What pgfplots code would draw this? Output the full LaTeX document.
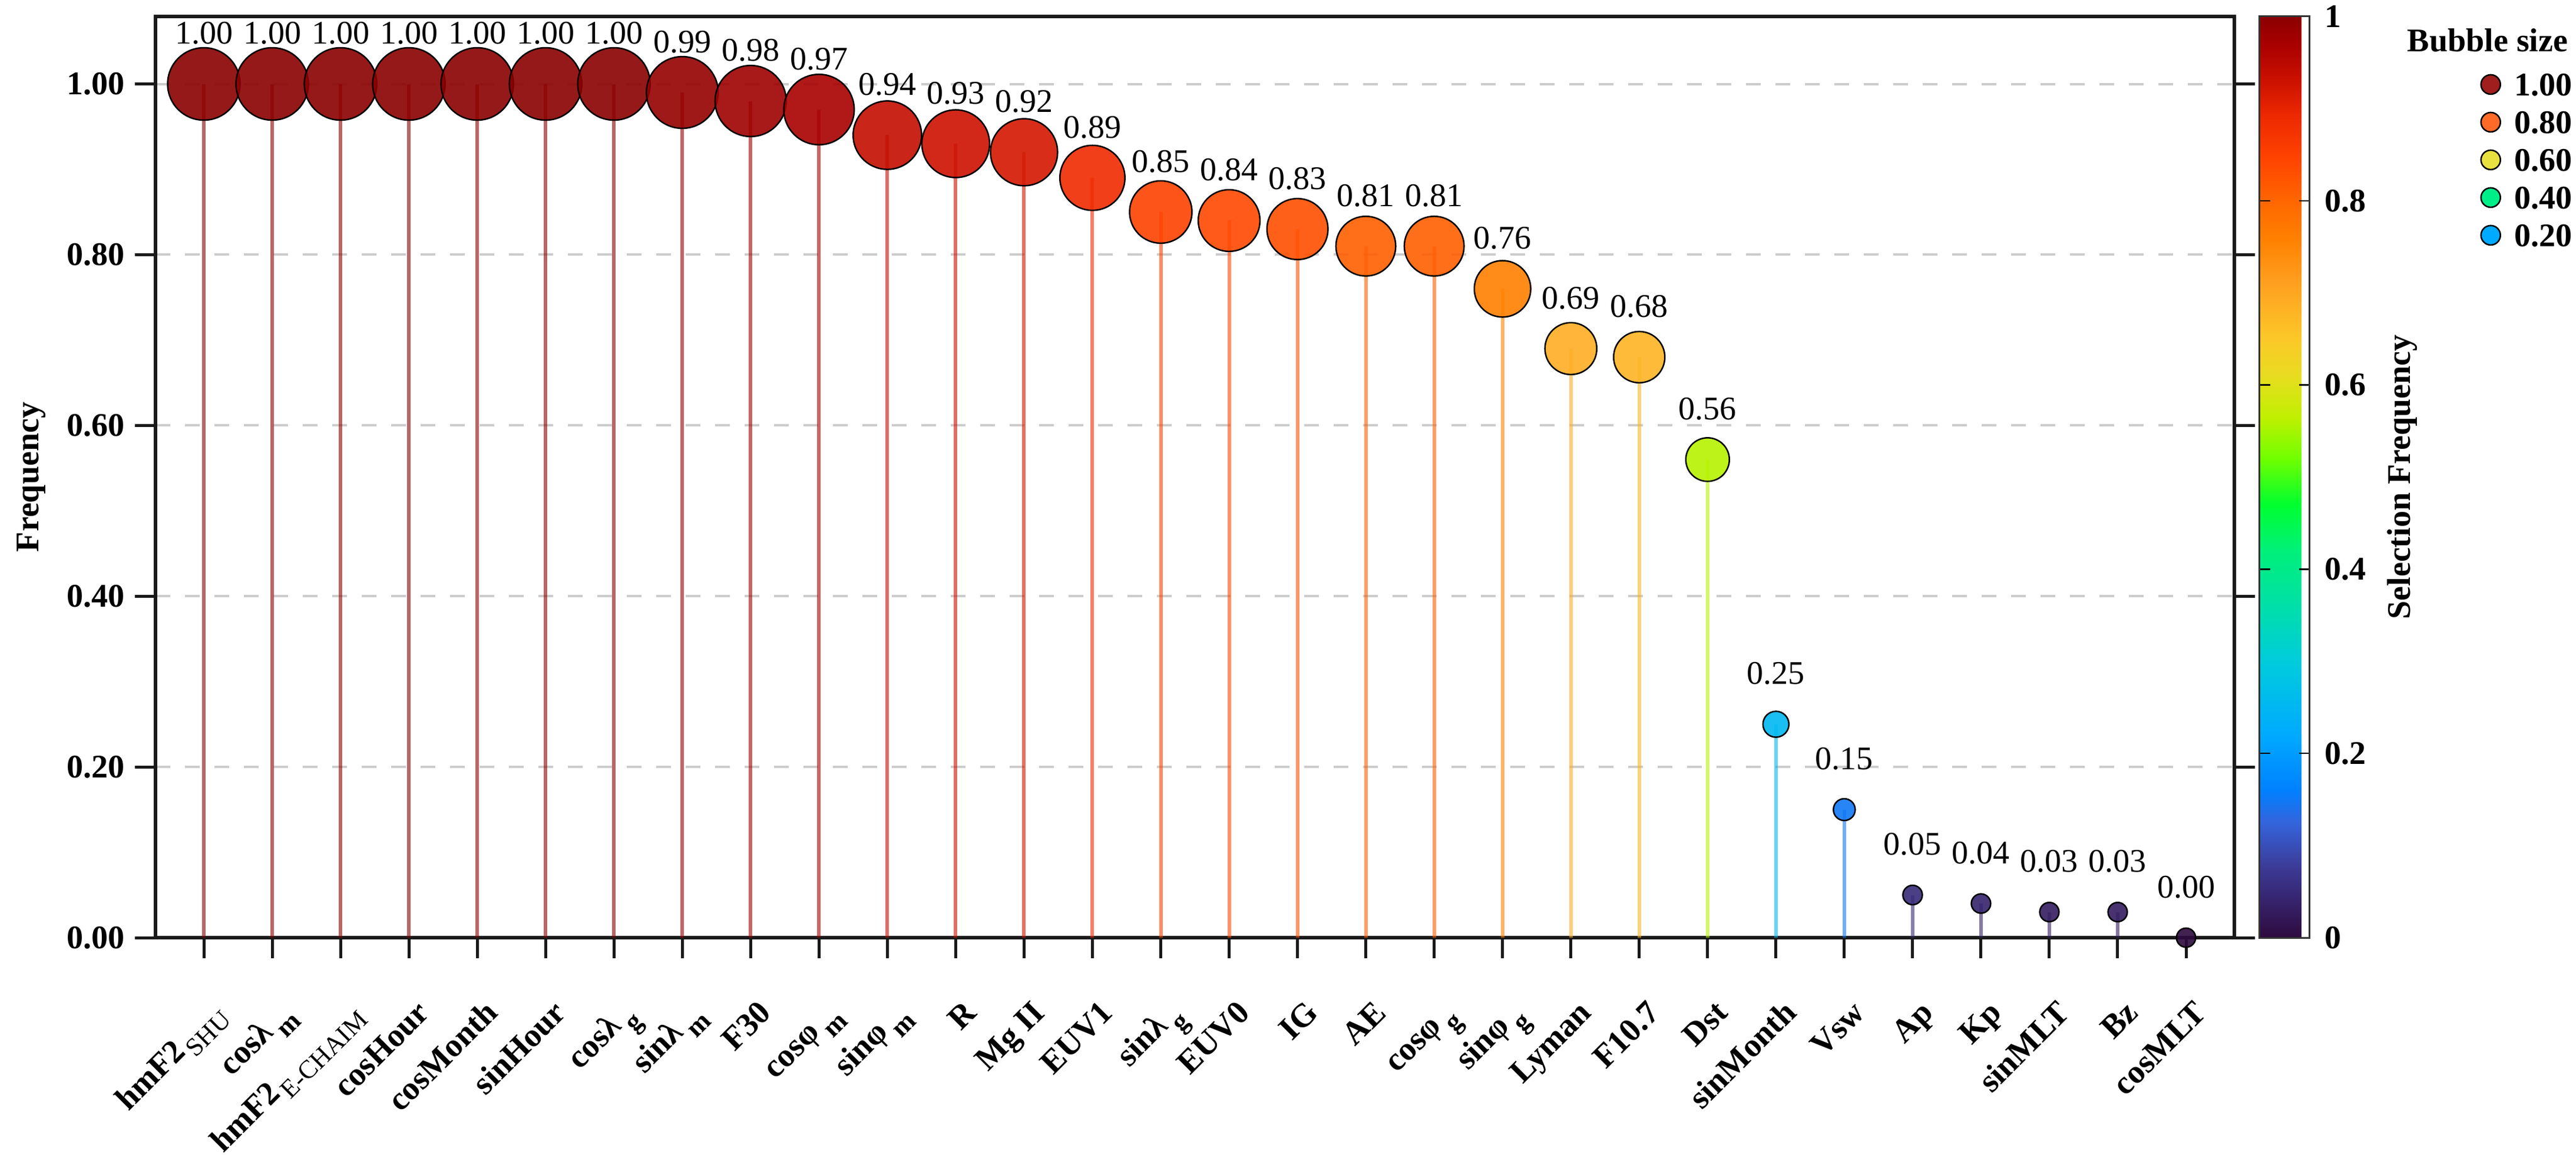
\documentclass[border=0pt]{standalone}
\usepackage{fontspec}
\setmainfont{Liberation Serif}
\usepackage{graphicx}
\usepackage{pgfplots}
\usepackage{pgfplotstable}
\pgfplotsset{compat=1.18}

\newcommand{\fs}{\fontsize{11.2}{13}\selectfont}
\newcommand{\subr}[1]{\kern1pt\raisebox{-3.2pt}{\mdseries\fontsize{8.8}{10}\selectfont #1}}
\newcommand{\subb}[1]{\kern1.8pt\raisebox{-4pt}{\fontsize{9.2}{10}\selectfont #1}}

\definecolor{L1}{HTML}{A01E1E}
\definecolor{L2}{HTML}{FF6A28}
\definecolor{L3}{HTML}{E8E040}
\definecolor{L4}{HTML}{00EE88}
\definecolor{L5}{HTML}{00AAFF}

\pgfplotstableread{
x f
0 1.00
1 1.00
2 1.00
3 1.00
4 1.00
5 1.00
6 1.00
7 0.99
8 0.98
9 0.97
10 0.94
11 0.93
12 0.92
13 0.89
14 0.85
15 0.84
16 0.83
17 0.81
18 0.81
19 0.76
20 0.69
21 0.68
22 0.56
23 0.25
24 0.15
25 0.05
26 0.04
27 0.03
28 0.03
29 0.00
}\data

\pgfplotsset{
  colormap={sel}{
    rgb255(0pt)=(46,10,62);
    rgb255(76pt)=(60,58,150);
    rgb255(125pt)=(52,100,220);
    rgb255(160pt)=(0,128,255);
    rgb255(220pt)=(0,170,255);
    rgb255(300pt)=(0,204,220);
    rgb255(370pt)=(0,226,160);
    rgb255(420pt)=(0,240,122);
    rgb255(470pt)=(0,255,48);
    rgb255(520pt)=(112,255,0);
    rgb255(565pt)=(192,240,0);
    rgb255(610pt)=(232,220,32);
    rgb255(650pt)=(252,200,40);
    rgb255(710pt)=(255,160,32);
    rgb255(760pt)=(255,128,0);
    rgb255(800pt)=(255,102,0);
    rgb255(845pt)=(255,68,0);
    rgb255(890pt)=(238,42,0);
    rgb255(930pt)=(204,17,0);
    rgb255(970pt)=(168,0,0);
    rgb255(1000pt)=(139,0,0)
  }
}

\begin{document}
\begin{tikzpicture}
\begin{axis}[
  name=main,
  scale only axis,
  width=705.8pt, height=312.8pt,
  xmin=-0.707, xmax=29.707,
  ymin=0, ymax=1.079,
  point meta min=0, point meta max=1,
  colormap name=sel,
  /pgf/number format/assume math mode=true,
  axis line style={line width=1.1pt, black!90},
  tick align=outside,
  major tick length=7pt,
  tick style={line width=1pt, black!90},
  xtick pos=left,
  ytick pos=both,
  xtick={0,...,29},
  xticklabels={
    hmF2\subr{SHU},
    cosλ\subb{m},
    hmF2\subr{E-CHAIM},
    cosHour,
    cosMonth,
    sinHour,
    cosλ\subb{g},
    sinλ\subb{m},
    F30,
    cosφ\subb{m},
    sinφ\subb{m},
    R,
    Mg II,
    EUV1,
    sinλ\subb{g},
    EUV0,
    IG,
    AE,
    cosφ\subb{g},
    sinφ\subb{g},
    Lyman,
    F10.7,
    Dst,
    sinMonth,
    Vsw,
    Ap,
    Kp,
    sinMLT,
    Bz,
    cosMLT},
  xticklabel style={xshift=7.6pt, yshift=-19.0pt, rotate=45, anchor=base east, inner sep=0pt, font=\bfseries\fs},
  ytick={0,0.2,0.4,0.6,0.8,1.0},
  yticklabel style={font=\bfseries\fs, inner sep=0pt, xshift=-3.2pt,
    /pgf/number format/fixed, /pgf/number format/fixed zerofill,
    /pgf/number format/precision=2},
  ymajorgrids,
  grid style={dash pattern=on 5pt off 5pt, line width=0.8pt, black!20},
  ylabel={Frequency},
  every axis y label/.style={at={(axis description cs:-0.0598,0.5)}, rotate=90, anchor=center, font=\bfseries\fs},
  colorbar right,
  colorbar style={
    scale only axis,
    at={([xshift=8pt]parent axis.north east)}, anchor=north west,
    width=17pt,
    ytick={0,0.2,0.4,0.6,0.8,1},
    yticklabels={0,0.2,0.4,0.6,0.8,1},
    yticklabel style={font=\bfseries\fs, inner sep=0pt, xshift=5pt, anchor=west},
    tick align=inside,
    major tick length=3.6pt,
    tick style={line width=0.5pt, black},
    axis line style={line width=0.6pt, black!80},
    ylabel={Selection Frequency},
    every axis y label/.style={at={(axis description cs:2.847,0.5)}, rotate=90, anchor=center, font=\bfseries\fs},
  },
  legend image code/.code={\draw[#1] (0pt,0pt) circle (3.3pt);},
  legend style={at={(1.1180,0.9390)}, anchor=north west, draw=none, fill=none,
    inner sep=0pt, row sep=5.2pt, column sep=4.5pt, font=\bfseries\fs,
    nodes={inner sep=0pt, text height=7.6pt, text depth=0pt}},
  legend cell align=left,
]
\addplot[scatter, only marks, mark=*, point meta=explicit,
  scatter/use mapped color={draw=black, fill=mapped color, fill opacity=0.9, line width=0.5pt},
  visualization depends on={sqrt(10.56+140.7*\thisrow{f}^2) \as \msize},
  scatter/@pre marker code/.append style={/tikz/mark size=\msize pt},
  nodes near coords*={\pgfmathprintnumber[fixed,fixed zerofill,precision=2]{\pgfplotspointmeta}},
  every node near coord/.append style={anchor=south, yshift=13.2pt, inner sep=0pt, font=\fs, text=black, fill opacity=1, text opacity=1},
  forget plot]
  table[x=x, y=f, meta=f] {\data};
\addplot[quiver={u=0, v=-\thisrow{f}, colored}, point meta=explicit,
  draw opacity=0.6, line width=1.2pt, -, forget plot]
  table[x=x, y=f, meta=f] {\data};
\addlegendimage{draw=black, fill=L1, line width=0.5pt}
\addlegendentry{1.00}
\addlegendimage{draw=black, fill=L2, line width=0.5pt}
\addlegendentry{0.80}
\addlegendimage{draw=black, fill=L3, line width=0.5pt}
\addlegendentry{0.60}
\addlegendimage{draw=black, fill=L4, line width=0.5pt}
\addlegendentry{0.40}
\addlegendimage{draw=black, fill=L5, line width=0.5pt}
\addlegendentry{0.20}
\end{axis}
\node[anchor=base, font=\bfseries\fs, inner sep=0pt] at ([shift={(86pt,-12pt)}]main.north east) {Bubble size};
\pgfresetboundingbox
\path ([shift={(-52.8pt,-73.6pt)}]main.south west) rectangle ([shift={(116pt,5.6pt)}]main.north east);
\end{tikzpicture}
\end{document}
